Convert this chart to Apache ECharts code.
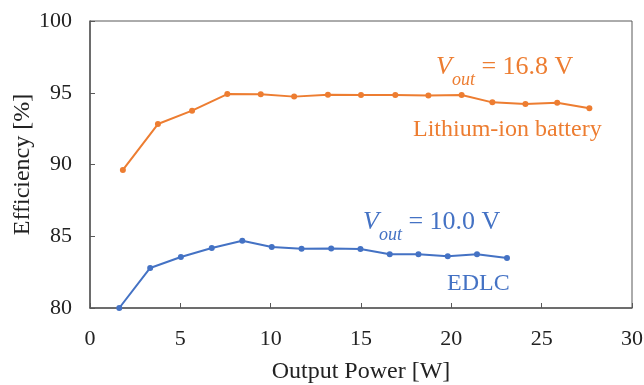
<!DOCTYPE html>
<html>
<head>
<meta charset="utf-8">
<script src="https://cdn.jsdelivr.net/npm/echarts@6/dist/echarts.min.js"></script>
<style>
  html, body { margin: 0; padding: 0; background: #fff; }
  #chart { width: 644px; height: 385px; }
</style>
</head>
<body>
<div id="chart"></div>
<script>
// Efficiency vs. output power for two loads
const liionPower = [1.82, 3.76, 5.65, 7.6, 9.45, 11.3, 13.17, 15.0, 16.9, 18.73, 20.57, 22.27, 24.1, 25.86, 27.64];
const liionEff   = [89.62, 92.82, 93.75, 94.91, 94.89, 94.73, 94.86, 94.84, 94.84, 94.8, 94.84, 94.33, 94.22, 94.31, 93.92];

const edlcPower = [1.62, 3.33, 5.03, 6.74, 8.43, 10.06, 11.71, 13.35, 14.97, 16.59, 18.18, 19.8, 21.42, 23.08];
const edlcEff   = [80.0, 82.79, 83.55, 84.18, 84.69, 84.25, 84.13, 84.15, 84.11, 83.74, 83.74, 83.6, 83.74, 83.48];

const xTicks = [0, 5, 10, 15, 20, 25, 30];
const yTicks = [80, 85, 90, 95, 100];

const ORANGE = '#ED7D31';
const BLUE = '#4472C4';
const SERIF = '"Liberation Serif", "DejaVu Serif", serif';

const pairs = (xs, ys) => xs.map((x, i) => [x, ys[i]]);

// "V_out = ..." with an italic subscript sitting below the baseline
function vLabel(value, color) {
  return {
    text: '{v|V}{s|out}{t| = ' + value + '}',
    rich: {
      v: { fontFamily: SERIF, fontStyle: 'italic', fontSize: 26, fill: color, lineHeight: 34, verticalAlign: 'bottom', padding: [0, 0, 9, 0] },
      s: { fontFamily: SERIF, fontStyle: 'italic', fontSize: 18, fill: color, lineHeight: 34, verticalAlign: 'bottom' },
      t: { fontFamily: SERIF, fontSize: 26, fill: color, lineHeight: 34, verticalAlign: 'bottom', padding: [0, 0, 9, 0] }
    }
  };
}

const chart = echarts.init(document.getElementById('chart'), null, { renderer: 'canvas' });

chart.setOption({
  animation: false,
  backgroundColor: '#fff',
  grid: {
    left: 90, right: 12, top: 21, bottom: 77,
    outerBoundsMode: 'none',
    containLabel: false,
    show: true, borderColor: '#595959', borderWidth: 1
  },
  xAxis: {
    type: 'value',
    min: xTicks[0], max: xTicks[xTicks.length - 1], interval: 5,
    name: 'Output Power [W]',
    nameLocation: 'middle', nameGap: 52,
    nameTextStyle: { fontFamily: SERIF, fontSize: 24, color: '#222' },
    axisLine: { lineStyle: { color: '#595959', width: 1.5 } },
    axisTick: { inside: true, length: 5, lineStyle: { color: '#595959' } },
    axisLabel: { fontFamily: SERIF, fontSize: 22, color: '#222', margin: 20 },
    splitLine: { show: false }
  },
  yAxis: {
    type: 'value',
    min: yTicks[0], max: yTicks[yTicks.length - 1], interval: 5,
    name: 'Efficiency [%]',
    nameLocation: 'middle', nameGap: 55,
    nameMoveOverlap: false,
    nameTextStyle: { fontFamily: SERIF, fontSize: 24, color: '#222' },
    axisLine: { show: true, lineStyle: { color: '#595959', width: 1.5 } },
    axisTick: { show: true, inside: true, length: 5, lineStyle: { color: '#595959' } },
    axisLabel: { fontFamily: SERIF, fontSize: 22, color: '#222', margin: 18 },
    splitLine: { show: false }
  },
  series: [
    {
      name: 'Lithium-ion battery',
      type: 'line',
      data: pairs(liionPower, liionEff),
      symbol: 'circle', symbolSize: 6,
      lineStyle: { color: ORANGE, width: 2 },
      itemStyle: { color: ORANGE },
      clip: false
    },
    {
      name: 'EDLC',
      type: 'line',
      data: pairs(edlcPower, edlcEff),
      symbol: 'circle', symbolSize: 6,
      lineStyle: { color: BLUE, width: 2 },
      itemStyle: { color: BLUE },
      clip: false
    }
  ],
  graphic: [
    { type: 'text', left: 436, top: 54, style: vLabel('16.8 V', ORANGE) },
    { type: 'text', left: 363, top: 209, style: vLabel('10.0 V', BLUE) },
    { type: 'text', left: 413, top: 118, style: { text: 'Lithium-ion battery', fontFamily: SERIF, fontSize: 24, fill: ORANGE } },
    { type: 'text', left: 447, top: 272, style: { text: 'EDLC', fontFamily: SERIF, fontSize: 24, fill: BLUE } }
  ]
});
</script>
</body>
</html>
